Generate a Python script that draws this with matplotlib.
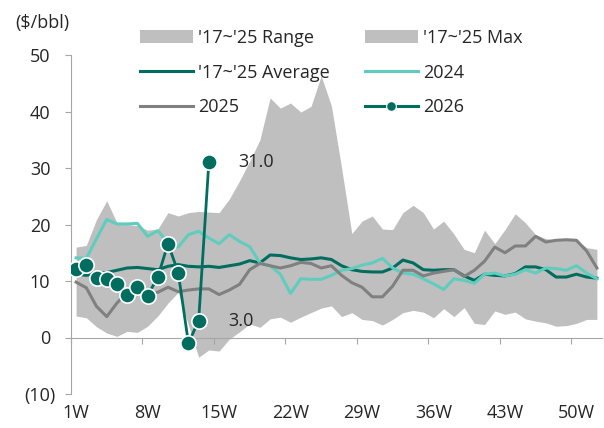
import numpy as np
import matplotlib
matplotlib.use("Agg")
import matplotlib.pyplot as plt
import matplotlib.transforms as mtransforms
from matplotlib.patches import Patch
from matplotlib.lines import Line2D

plt.rcParams['font.family'] = ['Open Sans', 'DejaVu Sans']

# weekly values, $/bbl
weeks = list(range(1, 53))
week_labels = ['1W', '8W', '15W', '22W', '29W', '36W', '43W', '50W']
label_weeks = [1, 8, 15, 22, 29, 36, 43, 50]

max_17_25 = [16.0, 16.3, 20.9, 24.2, 20.3, 20.0, 19.8, 19.0, 19.2, 22.1,
             21.5, 22.1, 22.3, 22.2, 22.1, 24.5, 27.7, 31.2, 35.0, 42.4,
             40.6, 41.5, 39.9, 40.9, 46.3, 41.0, 30.0, 18.4, 20.6, 21.5,
             19.2, 19.1, 22.1, 23.4, 22.1, 19.2, 20.6, 18.3, 15.6, 15.0,
             19.0, 16.6, 19.1, 21.9, 20.3, 18.2, 17.5, 17.3, 17.3, 17.2,
             15.9, 15.6]
min_17_25 = [3.8, 3.5, 1.9, 0.8, 0.2, 1.1, 0.9, 2.0, 3.8, 6.1,
             8.0, 2.2, -3.5, -2.2, -2.4, -0.3, 1.0, 2.4, 1.8, 3.3,
             3.6, 2.7, 3.6, 4.4, 5.2, 5.6, 3.7, 4.4, 3.2, 3.0,
             2.2, 3.2, 4.4, 4.8, 4.5, 3.5, 5.1, 3.7, 5.3, 2.5,
             2.3, 4.7, 4.1, 4.5, 3.3, 2.9, 2.6, 2.0, 2.1, 2.5,
             3.2, 3.2]
avg_17_25 = [11.2, 11.0, 11.3, 11.5, 11.9, 12.3, 12.4, 12.2, 12.0, 12.6,
             12.9, 12.6, 12.5, 12.6, 12.4, 12.7, 13.0, 13.6, 13.2, 14.6,
             14.5, 14.1, 13.8, 13.9, 14.1, 13.8, 12.7, 12.0, 11.7, 11.6,
             11.6, 12.3, 13.7, 13.2, 12.0, 11.9, 12.0, 12.0, 10.9, 10.1,
             11.2, 11.0, 10.9, 11.3, 12.5, 12.5, 12.0, 10.7, 10.7, 11.2,
             10.7, 10.5]
y2024 = [14.1, 14.0, 17.5, 20.9, 20.1, 20.1, 20.2, 17.9, 18.9, 16.8,
         16.0, 18.2, 18.8, 17.6, 16.6, 18.2, 17.0, 16.1, 13.2, 12.7,
         11.2, 7.8, 10.4, 10.3, 10.3, 11.0, 11.9, 12.2, 12.8, 13.2,
         14.0, 12.3, 11.4, 11.2, 10.4, 9.5, 8.5, 10.4, 10.1, 9.6,
         11.2, 11.4, 10.9, 11.2, 12.0, 11.4, 12.3, 12.2, 11.9, 12.7,
         11.4, 10.4]
y2025 = [9.8, 8.8, 5.5, 3.7, 6.1, 8.0, 8.7, 7.9, 8.0, 8.9,
         8.1, 8.4, 8.6, 8.6, 7.6, 8.4, 9.4, 12.0, 13.1, 12.7,
         12.3, 12.7, 13.3, 13.1, 12.3, 12.7, 11.0, 9.7, 8.9, 7.2,
         7.2, 9.1, 11.9, 11.9, 10.9, 11.4, 11.7, 12.0, 10.8, 11.9,
         13.5, 16.0, 15.0, 16.2, 16.2, 17.9, 16.9, 17.2, 17.3, 17.2,
         15.3, 12.3]
y2026 = [12.2, 12.8, 10.5, 10.4, 9.5, 7.6, 8.9, 7.4, 10.7, 16.6,
         11.5, -1.0, 3.0, 31.0]
weeks2026 = weeks[:len(y2026)]

c_fill = '#BFBFBF'
c_avg = '#006D5F'
c_2024 = '#5FCDBD'
c_2025 = '#808080'
c_axis = '#A6A6A6'
c_text = '#262626'
fs = 13

fig = plt.figure(figsize=(6.04, 4.28), dpi=100)
ax = fig.add_axes([71/604, 34/428, 531/604, 339/428])

ax.fill_between(weeks, min_17_25, max_17_25, color=c_fill, lw=0, zorder=1)
ax.plot(weeks, avg_17_25, color=c_avg, lw=2.2, zorder=3)
ax.plot(weeks, y2024, color=c_2024, lw=2.2, zorder=3)
ax.plot(weeks, y2025, color=c_2025, lw=2.2, zorder=3)
ax.plot(weeks2026, y2026, color=c_avg, lw=2.0, marker='o', ms=11,
        mfc=c_avg, mec='white', mew=1.2, zorder=4)

for val in (31.0, 3.0):
    i = y2026.index(val)
    ax.annotate(f'{val:.1f}', xy=(weeks2026[i], val), xytext=(21.5, 0),
                textcoords='offset points', ha='left', va='center',
                fontsize=fs, color=c_text)

ax.set_xlim(0.5, 52.5)
ax.set_ylim(-10, 50)

for s in ('top', 'right'):
    ax.spines[s].set_visible(False)
ax.spines['bottom'].set_position(('data', 0))
ax.spines['bottom'].set_color(c_axis)
ax.spines['left'].set_color(c_axis)

# tick marks between week groups on the zero line
ax.set_xticks([0.5 + 7 * k for k in range(8)])
ax.set_xticklabels([])
ax.tick_params(axis='x', direction='out', length=4.2, color=c_axis)

# labels at the bottom
sec = ax.secondary_xaxis(0)
sec.set_xticks(label_weeks, week_labels)
sec.tick_params(length=0, pad=7.5, labelsize=fs, labelcolor=c_text)
sec.spines['bottom'].set_visible(False)

yt = [-10, 0, 10, 20, 30, 40, 50]
ax.set_yticks(yt, ['(10)' if v < 0 else str(v) for v in yt])
ax.tick_params(axis='y', direction='out', length=4.3, color=c_axis,
               pad=7.0, labelsize=fs, labelcolor=c_text)
shift = mtransforms.ScaledTranslation(-5/100, 0, fig.dpi_scale_trans)
for v, tk in zip(yt, ax.yaxis.get_major_ticks()):
    if v >= 0:
        tk.label1.set_transform(tk.label1.get_transform() + shift)

fig.text(15/604, 1 - 23/428, '($/bbl)', ha='left', va='center',
         fontsize=fs, color=c_text)

h_range = Patch(facecolor=c_fill, edgecolor='none', label="'17~'25 Range")
h_max = Patch(facecolor=c_fill, edgecolor='none', label="'17~'25 Max")
h_avg = Line2D([], [], color=c_avg, lw=2.2, label="'17~'25 Average")
h_24 = Line2D([], [], color=c_2024, lw=2.2, label='2024')
h_25 = Line2D([], [], color=c_2025, lw=2.2, label='2025')
h_26 = Line2D([], [], color=c_avg, lw=2.2, marker='o', ms=7, mfc=c_avg,
              mec='white', mew=0.8, label='2026')
leg = ax.legend(handles=[h_range, h_avg, h_25, h_max, h_24, h_26], ncol=2,
                frameon=False, loc='upper left',
                bbox_to_anchor=(140/604, 1 - 29/428),
                bbox_transform=fig.transFigure, borderpad=0,
                borderaxespad=0, handlelength=2.94, handletextpad=0.28,
                columnspacing=1.93, labelspacing=0.92, fontsize=fs)
for t in leg.get_texts():
    t.set_color(c_text)

plt.savefig('out.png', dpi=100)
plt.close(fig)
